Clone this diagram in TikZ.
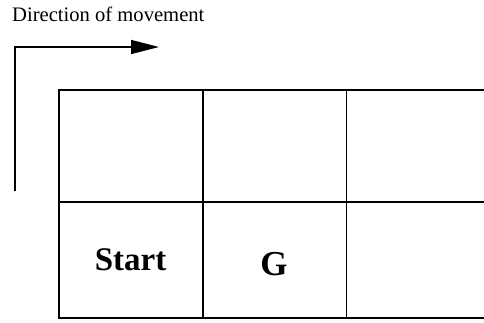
\documentclass[tikz,border=0pt]{standalone}
\usepackage{fontspec}
\setmainfont{Liberation Serif}
\usetikzlibrary{arrows.meta}
\begin{document}
\begin{tikzpicture}[x=1pt,y=-1pt,
  gridline/.style={line width=1.7pt,line cap=rect},
  celltext/.style={font=\fontsize{33}{36}\selectfont\bfseries,anchor=base,inner sep=0pt},
  movearrow/.style={line width=1.5pt,-{Triangle[length=28pt,width=14pt]}}]
\useasboundingbox (0,0) rectangle (484,322);
\begin{scope}
\clip (0,0) rectangle (484,322);
\draw[gridline] (59,90) -- (520,90);
\draw[gridline] (59,202) -- (520,202);
\draw[gridline] (59,318) -- (520,318);
\draw[gridline] (59,90) -- (59,318);
\draw[gridline] (203,90) -- (203,318);
\draw[gridline] (346.5,90) -- (346.5,318);
\draw[gridline] (490,90) -- (490,318);
\end{scope}
\node[celltext] (start) at (130.5,270) {Start};
\node[celltext,font=\fontsize{35}{38}\selectfont\bfseries] (goal) at (274,275.5) {G};
\node[font=\fontsize{20.6}{24}\selectfont,anchor=base west,inner sep=0pt] (label) at (12,21.5) {Direction of movement};
\coordinate (tail) at (15,191);
\coordinate (corner) at (15,47);
\coordinate (head) at (159,47);
\draw[movearrow] (tail) -- (corner) -- (head);
\end{tikzpicture}
\end{document}
